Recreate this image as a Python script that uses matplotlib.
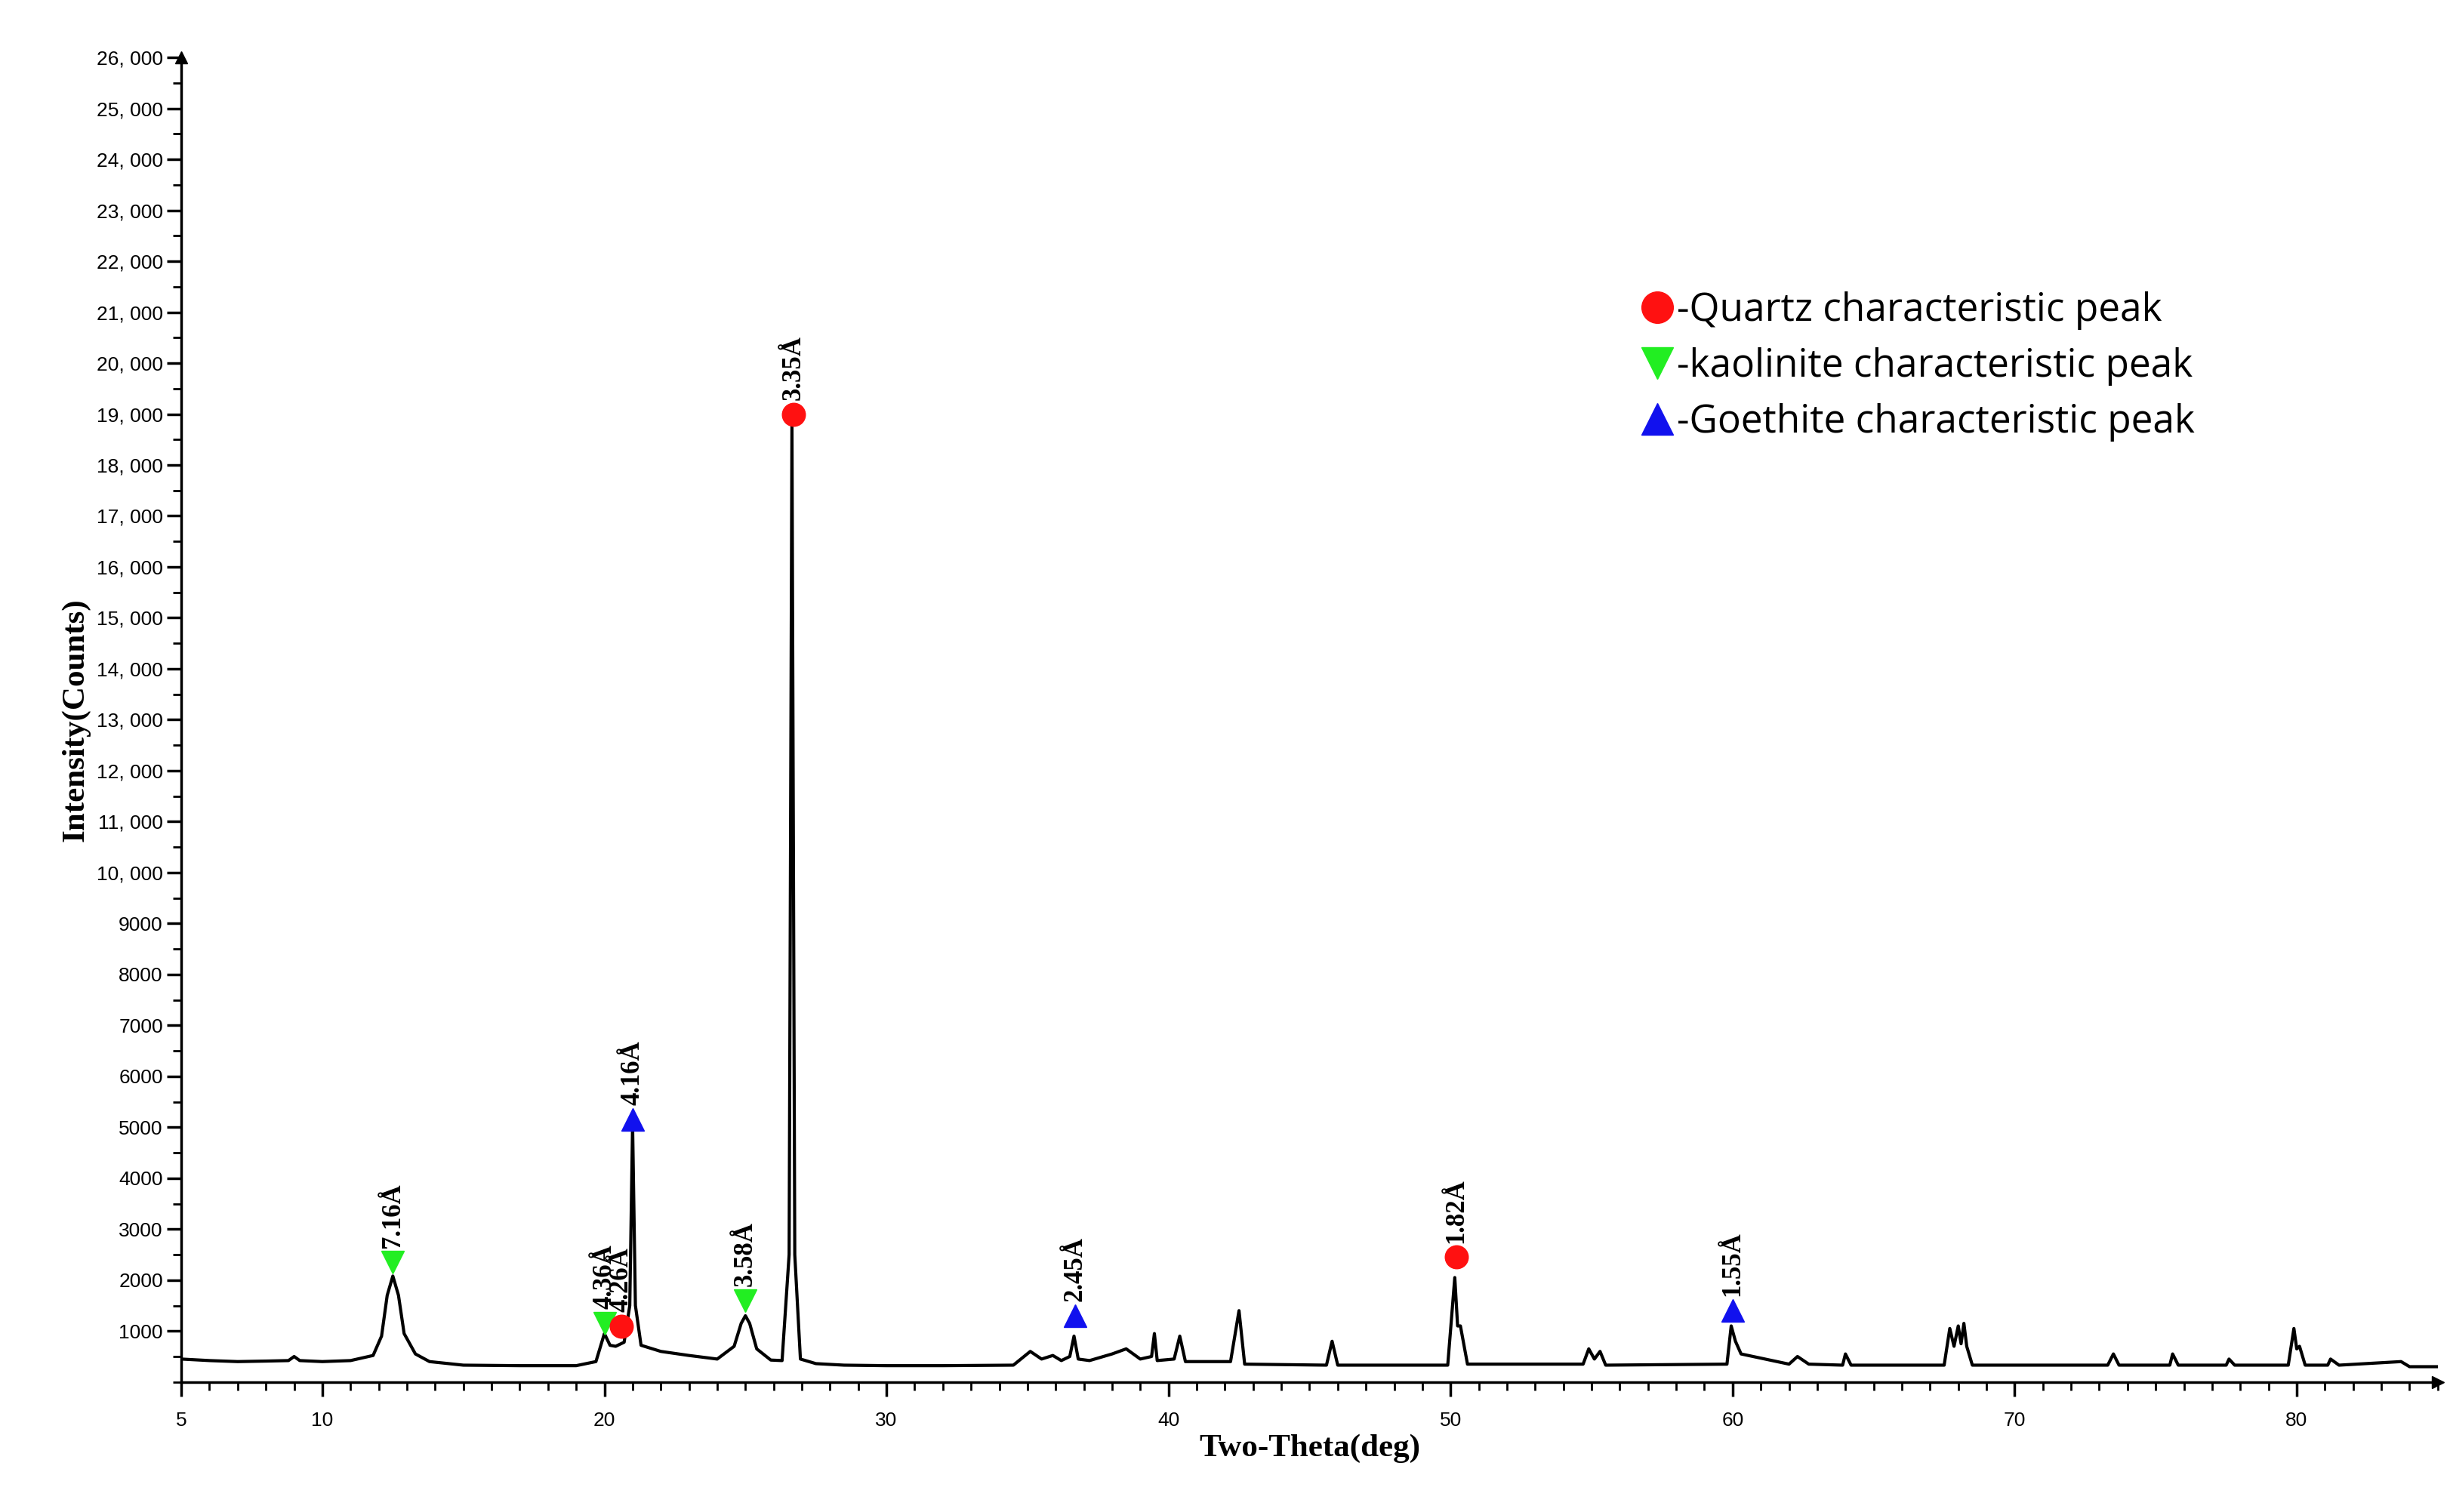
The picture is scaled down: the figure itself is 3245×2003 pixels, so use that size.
import numpy as np
import matplotlib
matplotlib.use("Agg")
import matplotlib.pyplot as plt
from matplotlib.ticker import MultipleLocator, FuncFormatter
from matplotlib.lines import Line2D

# XRD pattern (two-theta, counts)
theta = [5.0, 6.0, 7.0, 8.0, 8.8, 9.0, 9.2, 10.0, 11.0, 11.8, 12.1, 12.3, 12.5, 12.7, 12.9, 13.3, 13.8, 15.0, 17.0, 19.0, 19.7,
         20.0, 20.2, 20.4, 20.7, 20.9, 21.0, 21.1, 21.3, 22.0, 23.0, 24.0, 24.6, 24.85, 25.0, 25.15, 25.4, 25.9, 26.3, 26.55, 26.65,
         26.75, 26.95, 27.5, 28.5, 30.0, 32.0, 34.5, 35.1, 35.5, 35.9, 36.2, 36.5, 36.65, 36.8, 37.2, 38.0, 38.5, 39.0,
         39.4, 39.5, 39.6, 40.2, 40.4, 40.6, 42.2, 42.5, 42.7, 45.6, 45.8, 46.0, 49.9, 50.15, 50.25, 50.35, 50.6, 54.7,
         54.9, 55.1, 55.3, 55.5, 59.8, 59.95, 60.1, 60.3, 62.0, 62.3, 62.7, 63.9, 64.0, 64.2, 67.5, 67.7, 67.85, 68.0,
         68.1, 68.2, 68.3, 68.5, 73.3, 73.5, 73.7, 75.5, 75.6, 75.8, 77.5, 77.6, 77.8, 79.7, 79.9, 80.0, 80.1, 80.3,
         81.1, 81.2, 81.5, 83.7, 84.0, 85.0]
counts = [450, 420, 400, 410, 420, 500, 420, 400, 420, 520, 900, 1700, 2080, 1700, 950, 550, 400, 330, 320, 320, 400,
          950, 720, 700, 780, 1500, 5050, 1500, 720, 600, 520, 450, 700, 1150, 1300, 1150, 650, 430, 420, 2500, 18800,
          2500, 450, 360, 330, 320, 320, 330, 600, 450, 520, 420, 500, 900, 450, 420, 550, 650, 450,
          500, 950, 420, 450, 900, 400, 400, 1400, 350, 330, 800, 330, 330, 2050, 1100, 1100, 350, 350,
          650, 450, 600, 330, 350, 1100, 800, 550, 350, 500, 350, 330, 550, 330, 330, 1050, 700, 1100,
          750, 1150, 700, 330, 330, 550, 330, 330, 550, 330, 330, 450, 330, 330, 1050, 650, 700, 330,
          330, 450, 330, 400, 300, 300]

kaol_x = [12.5, 20.0, 25.0]
kaol_y = [2350, 1150, 1600]
kaol_lab = ["7.16Å", "4.36Å", "3.58Å"]
quartz_x = [20.6, 26.7, 50.2]
quartz_y = [1100, 19000, 2450]
quartz_lab = ["4.26Å", "3.35Å", "1.82Å"]
goe_x = [21.0, 36.7, 60.0]
goe_y = [5150, 1300, 1400]
goe_lab = ["4.16Å", "2.45Å", "1.55Å"]

fig = plt.figure(figsize=(32.45, 20.03), dpi=100)
ax = fig.add_axes([0.074, 0.086, 0.921, 0.876])
ax.plot(theta, counts, color="black", lw=3)

ax.plot(kaol_x, kaol_y, "v", color="#22ee22", ms=22)
ax.plot(quartz_x, quartz_y, "o", color="#ff1111", ms=22)
ax.plot(goe_x, goe_y, "^", color="#1111ee", ms=22)
serif = dict(family="Liberation Serif", weight="bold", fontsize=25, rotation=90, ha="center", va="bottom")
for xs, ys, labs in [(kaol_x, kaol_y, kaol_lab), (quartz_x, quartz_y, quartz_lab), (goe_x, goe_y, goe_lab)]:
    for x, y, s in zip(xs, ys, labs):
        ax.text(x, y + 280, s, **serif)

ax.set_xlim(5, 85)
ax.set_ylim(0, 26000)
ax.spines["top"].set_visible(False)
ax.spines["right"].set_visible(False)
ax.spines["left"].set_linewidth(2.5)
ax.spines["bottom"].set_linewidth(2.5)
ax.plot([0], [1], "^", transform=ax.transAxes, color="black", ms=12, clip_on=False)
ax.plot([1], [0], ">", transform=ax.transAxes, color="black", ms=12, clip_on=False)

ax.set_xticks([5, 10, 20, 30, 40, 50, 60, 70, 80])
ax.xaxis.set_minor_locator(MultipleLocator(1))
ax.set_yticks(np.arange(1000, 26001, 1000))
ax.yaxis.set_minor_locator(MultipleLocator(500))


def fmt(v, pos):
    v = int(round(v))
    if v >= 10000:
        return "%d, %03d" % (v // 1000, v % 1000)
    return str(v)


ax.yaxis.set_major_formatter(FuncFormatter(fmt))
ax.tick_params(axis="both", which="major", length=14, width=2.5, labelsize=19)
ax.tick_params(axis="both", which="minor", length=8, width=2)
for t in ax.get_xticklabels() + ax.get_yticklabels():
    t.set_family("Liberation Sans")
ax.tick_params(axis="x", pad=14)

ax.set_xlabel("Two-Theta(deg)", family="Liberation Serif", weight="bold", fontsize=31)
ax.set_ylabel("Intensity(Counts)", family="Liberation Serif", weight="bold", fontsize=31, labelpad=6)

handles = [Line2D([], [], ls="none", marker="o", color="#ff1111", ms=30),
           Line2D([], [], ls="none", marker="v", color="#22ee22", ms=30),
           Line2D([], [], ls="none", marker="^", color="#1111ee", ms=30)]
labels = ["-Quartz characteristic peak", "-kaolinite characteristic peak", "-Goethite characteristic peak"]
ax.legend(handles, labels, loc="upper left", bbox_to_anchor=(0.63, 0.85), frameon=False,
          prop={"family": "Open Sans", "size": 37}, handletextpad=0.0, handlelength=1.0, labelspacing=0.45)

fig.savefig("out.png", dpi=100)
